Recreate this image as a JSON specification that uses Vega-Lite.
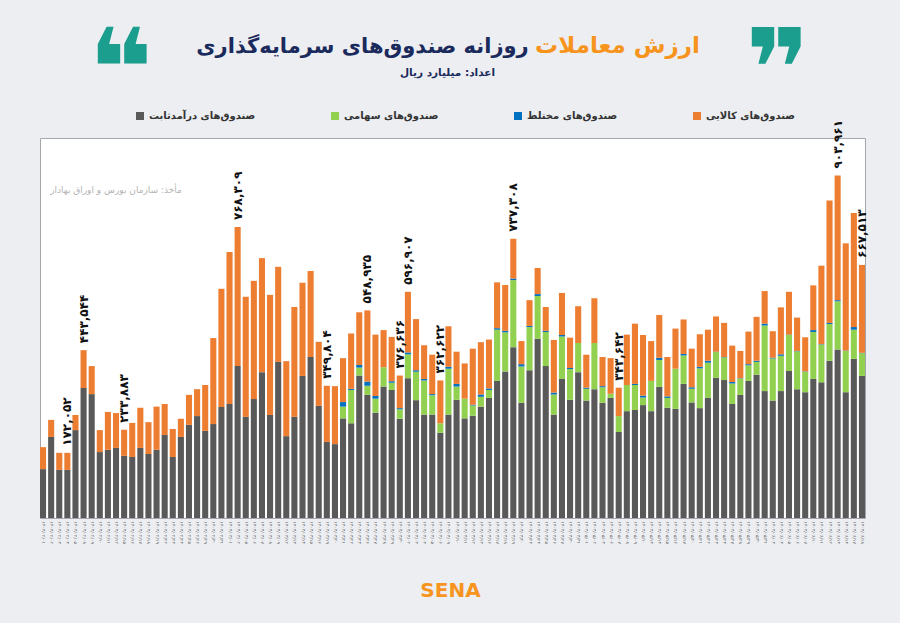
{
  "$schema": "https://vega.github.io/schema/vega-lite/v6.json",
  "description": "Daily trading value of Iranian investment funds by fund type (billion rial).",
  "width": 825,
  "height": 380,
  "autosize": "none",
  "padding": {"left": 40, "top": 138, "right": 35, "bottom": 105},
  "background": "#eceef1",
  "title": {
    "text": "روزانه صندوق‌های سرمایه‌گذاری",
    "anchor": "middle",
    "frame": "group",
    "dx": -90,
    "dy": 43,
    "fontSize": 21,
    "fontWeight": "bold",
    "color": "#1b2a5c"
  },
  "config": {
    "font": "DejaVu Sans",
    "view": {"fill": "#ffffff", "stroke": "#a3a6aa", "strokeWidth": 1}
  },
  "data": {
    "values": [
      {"d": "۱۴۰۳/۰۲/۰۱", "bond": 129, "equity": 0, "mixed": 0, "raw": 58},
      {"d": "۱۴۰۳/۰۲/۰۲", "bond": 214, "equity": 0, "mixed": 0, "raw": 45},
      {"d": "۱۴۰۳/۰۲/۰۳", "bond": 127, "equity": 0, "mixed": 0, "raw": 45},
      {"d": "۱۴۰۳/۰۲/۰۴", "bond": 127, "equity": 0, "mixed": 0, "raw": 45, "l": "۱۷۲,۰۵۲"},
      {"d": "۱۴۰۳/۰۲/۰۵", "bond": 232, "equity": 0, "mixed": 0, "raw": 40},
      {"d": "۱۴۰۳/۰۲/۰۸", "bond": 343, "equity": 0, "mixed": 0, "raw": 100, "l": "۴۴۳,۵۴۴"},
      {"d": "۱۴۰۳/۰۲/۰۹", "bond": 327, "equity": 0, "mixed": 0, "raw": 74},
      {"d": "۱۴۰۳/۰۲/۱۰", "bond": 174, "equity": 0, "mixed": 0, "raw": 58},
      {"d": "۱۴۰۳/۰۲/۱۱", "bond": 180, "equity": 0, "mixed": 0, "raw": 100},
      {"d": "۱۴۰۳/۰۲/۱۲", "bond": 185, "equity": 0, "mixed": 0, "raw": 92},
      {"d": "۱۴۰۳/۰۲/۱۵", "bond": 164, "equity": 0, "mixed": 0, "raw": 69, "l": "۲۳۳,۸۸۳"},
      {"d": "۱۴۰۳/۰۲/۱۶", "bond": 161, "equity": 0, "mixed": 0, "raw": 90},
      {"d": "۱۴۰۳/۰۲/۱۷", "bond": 185, "equity": 0, "mixed": 0, "raw": 106},
      {"d": "۱۴۰۳/۰۲/۱۸", "bond": 169, "equity": 0, "mixed": 0, "raw": 84},
      {"d": "۱۴۰۳/۰۲/۱۹", "bond": 180, "equity": 0, "mixed": 0, "raw": 114},
      {"d": "۱۴۰۳/۰۲/۲۲", "bond": 219, "equity": 0, "mixed": 0, "raw": 82},
      {"d": "۱۴۰۳/۰۲/۲۳", "bond": 161, "equity": 0, "mixed": 0, "raw": 74},
      {"d": "۱۴۰۳/۰۲/۲۴", "bond": 214, "equity": 0, "mixed": 0, "raw": 48},
      {"d": "۱۴۰۳/۰۲/۲۵", "bond": 246, "equity": 0, "mixed": 0, "raw": 79},
      {"d": "۱۴۰۳/۰۲/۲۶", "bond": 269, "equity": 0, "mixed": 0, "raw": 71},
      {"d": "۱۴۰۳/۰۲/۲۹", "bond": 230, "equity": 0, "mixed": 0, "raw": 121},
      {"d": "۱۴۰۳/۰۲/۳۰", "bond": 248, "equity": 0, "mixed": 0, "raw": 227},
      {"d": "۱۴۰۳/۰۲/۳۱", "bond": 293, "equity": 0, "mixed": 0, "raw": 312},
      {"d": "۱۴۰۳/۰۳/۰۱", "bond": 301, "equity": 0, "mixed": 0, "raw": 401},
      {"d": "۱۴۰۳/۰۳/۰۲", "bond": 401, "equity": 0, "mixed": 0, "raw": 367, "l": "۷۶۸,۳۰۹"},
      {"d": "۱۴۰۳/۰۳/۰۵", "bond": 267, "equity": 0, "mixed": 0, "raw": 317},
      {"d": "۱۴۰۳/۰۳/۰۶", "bond": 314, "equity": 0, "mixed": 0, "raw": 312},
      {"d": "۱۴۰۳/۰۳/۰۷", "bond": 385, "equity": 0, "mixed": 0, "raw": 301},
      {"d": "۱۴۰۳/۰۳/۰۸", "bond": 272, "equity": 0, "mixed": 0, "raw": 317},
      {"d": "۱۴۰۳/۰۳/۰۹", "bond": 412, "equity": 0, "mixed": 0, "raw": 251},
      {"d": "۱۴۰۳/۰۳/۱۲", "bond": 216, "equity": 0, "mixed": 0, "raw": 198},
      {"d": "۱۴۰۳/۰۳/۱۳", "bond": 267, "equity": 0, "mixed": 0, "raw": 290},
      {"d": "۱۴۰۳/۰۳/۱۴", "bond": 375, "equity": 0, "mixed": 0, "raw": 246},
      {"d": "۱۴۰۳/۰۳/۱۵", "bond": 425, "equity": 0, "mixed": 0, "raw": 227},
      {"d": "۱۴۰۳/۰۳/۱۶", "bond": 296, "equity": 0, "mixed": 0, "raw": 169},
      {"d": "۱۴۰۳/۰۳/۱۹", "bond": 201, "equity": 0, "mixed": 0, "raw": 148, "l": "۳۴۹,۸۰۴"},
      {"d": "۱۴۰۳/۰۳/۲۰", "bond": 195, "equity": 0, "mixed": 0, "raw": 153},
      {"d": "۱۴۰۳/۰۳/۲۱", "bond": 263, "equity": 31, "mixed": 12, "raw": 116},
      {"d": "۱۴۰۳/۰۳/۲۲", "bond": 250, "equity": 88, "mixed": 3, "raw": 146},
      {"d": "۱۴۰۳/۰۳/۲۳", "bond": 376, "equity": 21, "mixed": 7, "raw": 139},
      {"d": "۱۴۰۳/۰۳/۲۶", "bond": 325, "equity": 24, "mixed": 11, "raw": 188, "l": "۵۴۸,۹۳۵"},
      {"d": "۱۴۰۳/۰۳/۲۷", "bond": 278, "equity": 37, "mixed": 7, "raw": 162},
      {"d": "۱۴۰۳/۰۳/۲۸", "bond": 347, "equity": 51, "mixed": 0, "raw": 98},
      {"d": "۱۴۰۳/۰۳/۲۹", "bond": 338, "equity": 19, "mixed": 4, "raw": 117},
      {"d": "۱۴۰۳/۰۳/۳۰", "bond": 262, "equity": 25, "mixed": 3, "raw": 86, "l": "۳۷۶,۶۳۶"},
      {"d": "۱۴۰۳/۰۴/۰۲", "bond": 369, "equity": 63, "mixed": 5, "raw": 160, "l": "۵۹۶,۹۰۷"},
      {"d": "۱۴۰۳/۰۴/۰۳", "bond": 311, "equity": 75, "mixed": 4, "raw": 135},
      {"d": "۱۴۰۳/۰۴/۰۴", "bond": 273, "equity": 90, "mixed": 4, "raw": 89},
      {"d": "۱۴۰۳/۰۴/۰۵", "bond": 273, "equity": 51, "mixed": 3, "raw": 104},
      {"d": "۱۴۰۳/۰۴/۰۶", "bond": 225, "equity": 25, "mixed": 0, "raw": 113, "l": "۳۶۲,۶۲۲"},
      {"d": "۱۴۰۳/۰۴/۰۹", "bond": 273, "equity": 121, "mixed": 5, "raw": 107},
      {"d": "۱۴۰۳/۰۴/۱۰", "bond": 312, "equity": 35, "mixed": 7, "raw": 85},
      {"d": "۱۴۰۳/۰۴/۱۱", "bond": 263, "equity": 52, "mixed": 0, "raw": 93},
      {"d": "۱۴۰۳/۰۴/۱۲", "bond": 270, "equity": 27, "mixed": 2, "raw": 148},
      {"d": "۱۴۰۳/۰۴/۱۳", "bond": 294, "equity": 26, "mixed": 6, "raw": 138},
      {"d": "۱۴۰۳/۰۴/۱۶", "bond": 317, "equity": 21, "mixed": 4, "raw": 129},
      {"d": "۱۴۰۳/۰۴/۱۷", "bond": 362, "equity": 135, "mixed": 4, "raw": 121},
      {"d": "۱۴۰۳/۰۴/۱۸", "bond": 387, "equity": 103, "mixed": 4, "raw": 121},
      {"d": "۱۴۰۳/۰۴/۱۹", "bond": 451, "equity": 177, "mixed": 4, "raw": 105, "l": "۷۳۷,۳۰۸"},
      {"d": "۱۴۰۳/۰۴/۲۰", "bond": 304, "equity": 96, "mixed": 6, "raw": 61},
      {"d": "۱۴۰۳/۰۴/۲۳", "bond": 390, "equity": 114, "mixed": 3, "raw": 68},
      {"d": "۱۴۰۳/۰۴/۲۴", "bond": 473, "equity": 113, "mixed": 5, "raw": 69},
      {"d": "۱۴۰۳/۰۴/۲۵", "bond": 401, "equity": 90, "mixed": 3, "raw": 63},
      {"d": "۱۴۰۳/۰۴/۲۶", "bond": 273, "equity": 53, "mixed": 5, "raw": 139},
      {"d": "۱۴۰۳/۰۴/۲۷", "bond": 367, "equity": 112, "mixed": 4, "raw": 111},
      {"d": "۱۴۰۳/۰۴/۳۰", "bond": 312, "equity": 81, "mixed": 3, "raw": 80},
      {"d": "۱۴۰۳/۰۴/۳۱", "bond": 385, "equity": 77, "mixed": 0, "raw": 97},
      {"d": "۱۴۰۳/۰۵/۰۱", "bond": 310, "equity": 31, "mixed": 3, "raw": 87},
      {"d": "۱۴۰۳/۰۵/۰۲", "bond": 340, "equity": 122, "mixed": 0, "raw": 118},
      {"d": "۱۴۰۳/۰۵/۰۳", "bond": 304, "equity": 41, "mixed": 3, "raw": 77},
      {"d": "۱۴۰۳/۰۵/۰۶", "bond": 317, "equity": 11, "mixed": 0, "raw": 94},
      {"d": "۱۴۰۳/۰۵/۰۷", "bond": 227, "equity": 42, "mixed": 0, "raw": 75, "l": "۳۴۳,۶۴۲"},
      {"d": "۱۴۰۳/۰۵/۰۸", "bond": 282, "equity": 69, "mixed": 0, "raw": 133},
      {"d": "۱۴۰۳/۰۵/۰۹", "bond": 285, "equity": 66, "mixed": 3, "raw": 159},
      {"d": "۱۴۰۳/۰۵/۱۰", "bond": 298, "equity": 20, "mixed": 5, "raw": 160},
      {"d": "۱۴۰۳/۰۵/۱۳", "bond": 282, "equity": 80, "mixed": 0, "raw": 105},
      {"d": "۱۴۰۳/۰۵/۱۴", "bond": 346, "equity": 71, "mixed": 6, "raw": 113},
      {"d": "۱۴۰۳/۰۵/۱۵", "bond": 291, "equity": 26, "mixed": 4, "raw": 104},
      {"d": "۱۴۰۳/۰۵/۱۶", "bond": 288, "equity": 106, "mixed": 0, "raw": 106},
      {"d": "۱۴۰۳/۰۵/۱۷", "bond": 354, "equity": 75, "mixed": 4, "raw": 91},
      {"d": "۱۴۰۳/۰۵/۲۰", "bond": 305, "equity": 36, "mixed": 4, "raw": 102},
      {"d": "۱۴۰۳/۰۵/۲۱", "bond": 290, "equity": 105, "mixed": 4, "raw": 86},
      {"d": "۱۴۰۳/۰۵/۲۲", "bond": 317, "equity": 93, "mixed": 5, "raw": 82},
      {"d": "۱۴۰۳/۰۵/۲۳", "bond": 370, "equity": 68, "mixed": 1, "raw": 93},
      {"d": "۱۴۰۳/۰۵/۲۴", "bond": 364, "equity": 60, "mixed": 1, "raw": 90},
      {"d": "۱۴۰۳/۰۵/۲۷", "bond": 301, "equity": 54, "mixed": 4, "raw": 96},
      {"d": "۱۴۰۳/۰۵/۲۸", "bond": 325, "equity": 43, "mixed": 1, "raw": 72},
      {"d": "۱۴۰۳/۰۵/۲۹", "bond": 362, "equity": 41, "mixed": 3, "raw": 86},
      {"d": "۱۴۰۳/۰۵/۳۰", "bond": 378, "equity": 34, "mixed": 3, "raw": 116},
      {"d": "۱۴۰۳/۰۵/۳۱", "bond": 335, "equity": 173, "mixed": 5, "raw": 86},
      {"d": "۱۴۰۳/۰۶/۰۳", "bond": 310, "equity": 111, "mixed": 2, "raw": 70},
      {"d": "۱۴۰۳/۰۶/۰۴", "bond": 335, "equity": 93, "mixed": 4, "raw": 124},
      {"d": "۱۴۰۳/۰۶/۰۵", "bond": 388, "equity": 95, "mixed": 1, "raw": 113},
      {"d": "۱۴۰۳/۰۶/۰۶", "bond": 340, "equity": 100, "mixed": 1, "raw": 88},
      {"d": "۱۴۰۳/۰۶/۰۷", "bond": 332, "equity": 54, "mixed": 1, "raw": 90},
      {"d": "۱۴۰۳/۰۶/۱۰", "bond": 367, "equity": 124, "mixed": 5, "raw": 118},
      {"d": "۱۴۰۳/۰۶/۱۱", "bond": 358, "equity": 100, "mixed": 1, "raw": 207},
      {"d": "۱۴۰۳/۰۶/۱۲", "bond": 415, "equity": 97, "mixed": 3, "raw": 323},
      {"d": "۱۴۰۳/۰۶/۱۳", "bond": 445, "equity": 127, "mixed": 3, "raw": 329, "l": "۹۰۳,۹۶۱"},
      {"d": "۱۴۰۳/۰۶/۱۴", "bond": 332, "equity": 109, "mixed": 1, "raw": 283},
      {"d": "۱۴۰۳/۰۶/۱۷", "bond": 420, "equity": 77, "mixed": 7, "raw": 301},
      {"d": "۱۴۰۳/۰۶/۱۸", "bond": 375, "equity": 60, "mixed": 1, "raw": 232, "l": "۶۶۷,۵۱۳"}
    ]
  },
  "resolve": {"axis": {"x": "independent", "y": "independent"}},
  "layer": [
    {
      "transform": [
        {"fold": ["bond", "equity", "mixed", "raw"], "as": ["series", "value"]}
      ],
      "mark": {"type": "bar"},
      "encoding": {
        "x": {
          "field": "d",
          "type": "ordinal",
          "sort": null,
          "scale": {"paddingInner": 0.25, "paddingOuter": 0},
          "axis": {
            "title": "اعداد: میلیارد ریال",
            "titleX": 407,
            "titleY": -446,
            "titleAlign": "center",
            "titleBaseline": "middle",
            "titleFontSize": 10.5,
            "titleFontWeight": "bold",
            "titleColor": "#1b2a5c",
            "labelAngle": 90,
            "labelAlign": "left",
            "labelBaseline": "middle",
            "labelFontSize": 4.5,
            "labelColor": "#555555",
            "labelPadding": 3,
            "labelOverlap": false,
            "ticks": false,
            "domain": false
          }
        },
        "y": {
          "field": "value",
          "type": "quantitative",
          "stack": "zero",
          "scale": {"domain": [0, 1003], "nice": false},
          "axis": {
            "title": "ارزش معاملات",
            "titleAngle": 0,
            "titleX": 577,
            "titleY": -93,
            "titleAlign": "center",
            "titleBaseline": "middle",
            "titleFontSize": 23,
            "titleFontWeight": "bold",
            "titleColor": "#f7941d",
            "labels": false,
            "ticks": false,
            "domain": false,
            "grid": false
          }
        },
        "color": {
          "field": "series",
          "type": "nominal",
          "scale": {
            "domain": ["bond", "equity", "mixed", "raw"],
            "range": ["#595959", "#92d050", "#0070c0", "#ed7d31"]
          },
          "legend": {
            "title": null,
            "orient": "none",
            "legendX": 95,
            "legendY": -27,
            "direction": "horizontal",
            "columnPadding": 74,
            "symbolType": "square",
            "symbolSize": 64,
            "symbolStrokeWidth": 0,
            "labelFontSize": 10,
            "labelFontWeight": "bold",
            "labelColor": "#333333",
            "labelExpr": "datum.label == 'bond' ? 'صندوق‌های درآمدثابت' : datum.label == 'equity' ? 'صندوق‌های سهامی' : datum.label == 'mixed' ? 'صندوق‌های مختلط' : 'صندوق‌های کالایی'"
          }
        },
        "order": {"field": "series", "sort": "ascending"}
      }
    },
    {
      "transform": [
        {"filter": "isValid(datum.l)"},
        {"fold": ["bond", "equity", "mixed", "raw"], "as": ["series", "value"]}
      ],
      "mark": {
        "type": "text",
        "angle": 270,
        "align": "left",
        "baseline": "middle",
        "dx": 7,
        "fontSize": 12,
        "fontWeight": "bold",
        "color": "#111111"
      },
      "encoding": {
        "x": {
          "field": "d",
          "type": "ordinal",
          "sort": null,
          "axis": {
            "orient": "top",
            "title": "❞",
            "titleX": 737,
            "titleY": -65,
            "titleAlign": "center",
            "titleBaseline": "middle",
            "titleFontSize": 110,
            "titleFontWeight": "bold",
            "titleColor": "#1b9e8e",
            "labels": false,
            "ticks": false,
            "domain": false
          }
        },
        "y": {"aggregate": "sum", "field": "value", "type": "quantitative", "axis": null},
        "text": {"field": "l"}
      }
    },
    {
      "data": {
        "values": [
          {"d": "۱۴۰۳/۰۲/۱۲", "v": 866, "t": "مأخذ: سازمان بورس و اوراق بهادار"}
        ]
      },
      "mark": {"type": "text", "fontSize": 9, "color": "#b3b3b3"},
      "encoding": {
        "x": {
          "field": "d",
          "type": "ordinal",
          "sort": null,
          "axis": {
            "orient": "top",
            "title": "❝",
            "titleX": 80,
            "titleY": -65,
            "titleAlign": "center",
            "titleBaseline": "middle",
            "titleFontSize": 110,
            "titleFontWeight": "bold",
            "titleColor": "#1b9e8e",
            "labels": false,
            "ticks": false,
            "domain": false
          }
        },
        "y": {
          "field": "v",
          "type": "quantitative",
          "axis": {
            "orient": "right",
            "title": "SENA",
            "titleAngle": 0,
            "titleX": -415,
            "titleY": 452,
            "titleAlign": "center",
            "titleBaseline": "middle",
            "titleFontSize": 20,
            "titleFontWeight": "bold",
            "titleColor": "#f7941d",
            "labels": false,
            "ticks": false,
            "domain": false,
            "grid": false
          }
        },
        "text": {"field": "t"}
      }
    }
  ]
}
